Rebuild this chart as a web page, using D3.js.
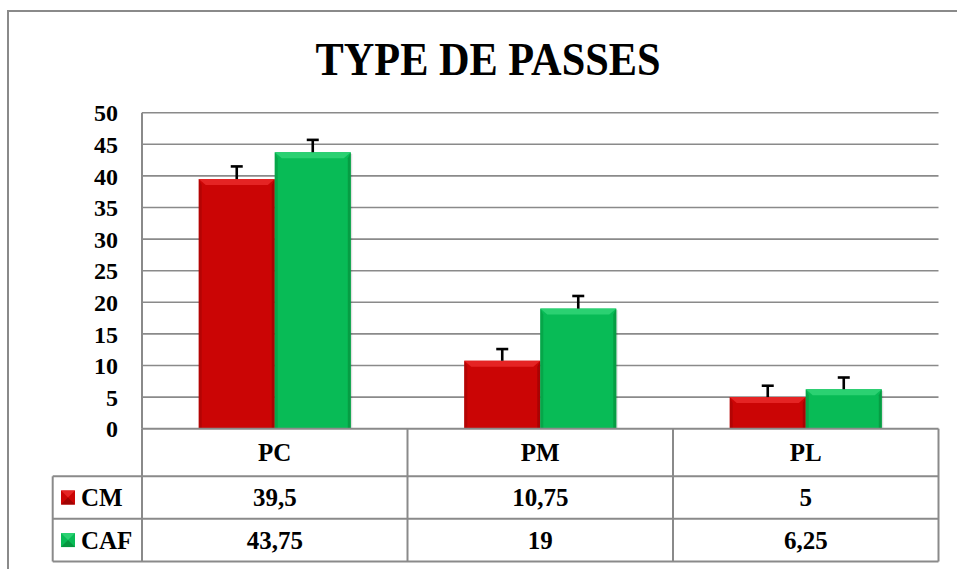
<!DOCTYPE html>
<html><head><meta charset="utf-8">
<script src="https://cdn.jsdelivr.net/npm/d3@7"></script>
<style>html,body{margin:0;padding:0;background:#fff;} svg{display:block;} text{font-family:"Liberation Serif","DejaVu Serif",serif;font-weight:bold;}</style>
</head><body>
<script>
const categories = ["PC", "PM", "PL"];
const seriesNames = ["CM", "CAF"];
const cmValues = [39.5, 10.75, 5];
const cafValues = [43.75, 19, 6.25];
const cmLabels = ["39,5", "10,75", "5"];
const cafLabels = ["43,75", "19", "6,25"];
const cmErrors = [2.0, 1.85, 1.8];
const cafErrors = [1.95, 2.0, 1.85];
const yTicks = [0, 5, 10, 15, 20, 25, 30, 35, 40, 45, 50];
const title = "TYPE DE PASSES";

const W = 957, H = 569;
const colors = {CM: {main: "#cb0505", light: "#e52424", dark: "#a00303"},
                CAF: {main: "#08bb56", light: "#2bd172", dark: "#06963f"}};
const series = [
  {name: "CM", values: cmValues, errors: cmErrors, labels: cmLabels},
  {name: "CAF", values: cafValues, errors: cafErrors, labels: cafLabels}
];

const svg = d3.select("body").append("svg").attr("width", W).attr("height", H);
const grey = "#8a8a8a";

svg.append("rect").attr("x", 8).attr("y", 11).attr("width", 960).attr("height", 570)
  .attr("fill", "none").attr("stroke", grey).attr("stroke-width", 2);

svg.append("text").attr("x", 488).attr("y", 75).attr("text-anchor", "middle")
  .attr("font-size", 47)
  .attr("textLength", 345).attr("lengthAdjust", "spacingAndGlyphs")
  .text(title);

const plot = {left: 142, right: 938.5, top: 112.7, bottom: 428.7};
const x0 = d3.scaleBand().domain(categories).range([plot.left, plot.right]).padding(0);
const bw = x0.bandwidth();
const x1 = d3.scaleBand().domain(seriesNames).range([bw * 0.2137, bw * 0.7863]).padding(0);
const y = d3.scaleLinear().domain([0, 50]).range([plot.bottom, plot.top]);

svg.append("g").selectAll("line").data(yTicks.filter(d => d > 0)).join("line")
  .attr("x1", plot.left).attr("x2", plot.right)
  .attr("y1", d => y(d)).attr("y2", d => y(d))
  .attr("stroke", grey).attr("stroke-width", 1.6);

const yAxis = d3.axisLeft(y).tickValues(yTicks).tickSize(0).tickPadding(0).tickFormat(d3.format("d"));
const ya = svg.append("g").attr("transform", `translate(${plot.left},0)`).call(yAxis);
ya.select(".domain").remove();
ya.attr("font-family", null).attr("font-size", null);
ya.selectAll("text").attr("x", -24).attr("dy", "0.34em")
  .attr("font-size", 24).attr("fill", "#000");
svg.append("line").attr("x1", plot.left).attr("x2", plot.left).attr("y1", plot.top).attr("y2", plot.bottom)
  .attr("stroke", grey).attr("stroke-width", 2);

const gBars = svg.append("g");
series.forEach(s => {
  const c = colors[s.name];
  categories.forEach((cat, i) => {
    const bx = x0(cat) + x1(s.name), w = x1.bandwidth();
    const top = y(s.values[i]), bot = y(0), h = bot - top;
    const bv = Math.min(6, h / 2), sv = 3;
    const g = gBars.append("g");
    g.append("rect").attr("x", bx + 1.5).attr("y", top + 1.5).attr("width", w).attr("height", h - 1.5)
      .attr("fill", "#000").attr("opacity", 0.12);
    g.append("rect").attr("x", bx).attr("y", top).attr("width", w).attr("height", h).attr("fill", c.main);
    g.append("polygon").attr("points", `${bx},${top} ${bx+sv},${top+bv} ${bx+sv},${bot} ${bx},${bot}`).attr("fill", c.dark).attr("opacity", 0.55);
    g.append("polygon").attr("points", `${bx+w},${top} ${bx+w-sv},${top+bv} ${bx+w-sv},${bot} ${bx+w},${bot}`).attr("fill", c.dark).attr("opacity", 0.8);
    g.append("polygon").attr("points", `${bx},${top} ${bx+w},${top} ${bx+w-sv-4},${top+bv} ${bx+sv+4},${top+bv}`).attr("fill", c.light);
  });
});

const gErr = svg.append("g").attr("stroke", "#000").attr("stroke-width", 2.6);
series.forEach(s => {
  categories.forEach((cat, i) => {
    const cx = x0(cat) + x1(s.name) + x1.bandwidth() / 2;
    const y1 = y(s.values[i]), y2 = y(s.values[i] + s.errors[i]);
    gErr.append("line").attr("x1", cx).attr("x2", cx).attr("y1", y1).attr("y2", y2);
    gErr.append("line").attr("x1", cx - 6).attr("x2", cx + 6).attr("y1", y2).attr("y2", y2);
  });
});

const rows = [{top: 428.7, bottom: 476.3}, {top: 476.3, bottom: 518.7}, {top: 518.7, bottom: 561.5}];
const legLeft = 52.7;
const gT = svg.append("g").attr("stroke", grey).attr("stroke-width", 2).attr("fill", "none");
gT.append("line").attr("x1", plot.left).attr("x2", plot.right).attr("y1", rows[0].top).attr("y2", rows[0].top);
[rows[1].top, rows[2].top, rows[2].bottom].forEach(yy =>
  gT.append("line").attr("x1", legLeft).attr("x2", plot.right).attr("y1", yy).attr("y2", yy));
gT.append("line").attr("x1", legLeft).attr("x2", legLeft).attr("y1", rows[1].top).attr("y2", rows[2].bottom);
x0.domain().map(c => x0(c)).concat([plot.right]).forEach(xx =>
  gT.append("line").attr("x1", xx).attr("x2", xx).attr("y1", rows[0].top).attr("y2", rows[2].bottom));

const tfont = 25;
categories.forEach(cat => {
  svg.append("text").attr("x", x0(cat) + bw / 2).attr("y", (rows[0].top + rows[0].bottom) / 2)
    .attr("dy", "0.35em").attr("text-anchor", "middle").attr("font-size", tfont).text(cat);
});
series.forEach((s, si) => {
  const r = rows[si + 1], cy = (r.top + r.bottom) / 2, c = colors[s.name];
  const kx = 61, ky = cy - 7, k = 14;
  svg.append("rect").attr("x", kx).attr("y", ky).attr("width", k).attr("height", k).attr("fill", c.main);
  svg.append("polygon").attr("points", `${kx},${ky} ${kx+k},${ky} ${kx+k/2},${ky+k/2}`).attr("fill", c.light);
  svg.append("polygon").attr("points", `${kx},${ky+k} ${kx+k},${ky+k} ${kx+k/2},${ky+k/2}`).attr("fill", c.dark);
  svg.append("text").attr("x", 81).attr("y", cy).attr("dy", "0.35em").attr("font-size", tfont).text(s.name);
  categories.forEach((cat, i) => {
    svg.append("text").attr("x", x0(cat) + bw / 2).attr("y", cy).attr("dy", "0.35em")
      .attr("text-anchor", "middle").attr("font-size", tfont).text(s.labels[i]);
  });
});
</script>
</body></html>
